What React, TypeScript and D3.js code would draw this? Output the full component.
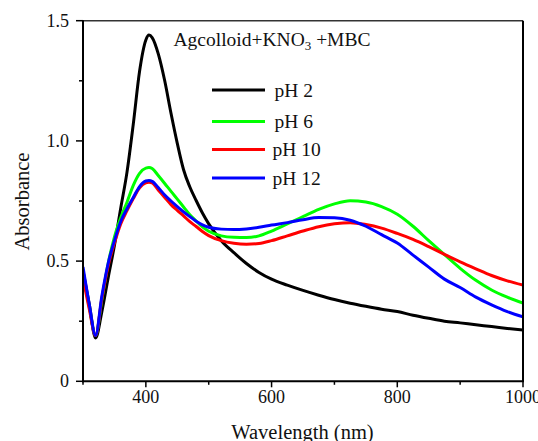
import React from "react";
import * as d3 from "d3";

const wavelengths = [300, 310, 320, 330, 340, 350, 360, 370, 380, 390, 400, 405, 410, 420, 430, 440, 450, 460, 470, 480, 490, 500, 520, 540, 560, 580, 600, 625, 650, 675, 700, 725, 750, 775, 800, 825, 850, 875, 900, 925, 950, 975, 1000];

const pH2 = [0.46, 0.32, 0.18, 0.29, 0.43, 0.565, 0.72, 0.87, 1.07, 1.29, 1.42, 1.44, 1.43, 1.36, 1.25, 1.115, 0.99, 0.88, 0.808, 0.752, 0.7, 0.655, 0.585, 0.535, 0.49, 0.453, 0.425, 0.4, 0.378, 0.358, 0.34, 0.325, 0.312, 0.3, 0.29, 0.275, 0.262, 0.25, 0.243, 0.235, 0.228, 0.22, 0.213];
const pH6 = [0.45, 0.31, 0.19, 0.34, 0.49, 0.6, 0.68, 0.745, 0.815, 0.865, 0.887, 0.889, 0.885, 0.855, 0.823, 0.79, 0.758, 0.725, 0.693, 0.667, 0.642, 0.624, 0.605, 0.599, 0.598, 0.605, 0.625, 0.655, 0.685, 0.715, 0.738, 0.751, 0.746, 0.727, 0.695, 0.645, 0.585, 0.527, 0.47, 0.42, 0.38, 0.35, 0.325];
const pH10 = [0.43, 0.3, 0.19, 0.345, 0.48, 0.575, 0.655, 0.71, 0.76, 0.805, 0.826, 0.828, 0.825, 0.795, 0.765, 0.735, 0.711, 0.688, 0.664, 0.644, 0.623, 0.606, 0.585, 0.574, 0.57, 0.573, 0.585, 0.605, 0.625, 0.643, 0.655, 0.66, 0.652, 0.637, 0.615, 0.59, 0.56, 0.528, 0.497, 0.468, 0.44, 0.418, 0.4];
const pH12 = [0.475, 0.32, 0.19, 0.355, 0.49, 0.585, 0.665, 0.718, 0.765, 0.81, 0.833, 0.835, 0.832, 0.805, 0.775, 0.75, 0.727, 0.705, 0.685, 0.666, 0.651, 0.641, 0.633, 0.631, 0.634, 0.641, 0.65, 0.66, 0.672, 0.681, 0.68, 0.67, 0.645, 0.61, 0.575, 0.525, 0.475, 0.425, 0.39, 0.35, 0.318, 0.29, 0.268];

const seriesNames = ["pH 2", "pH 6", "pH 10", "pH 12"];
const seriesValues = [pH2, pH6, pH10, pH12];
const seriesColors = ["#000000", "#00ff00", "#ff0000", "#0000ff"];

const xMajorTicks = [400, 600, 800, 1000];
const xMinorTicks = [300, 500, 700, 900];
const yMajorTicks = [0, 0.5, 1.0, 1.5];
const yMinorTicks = [0.25, 0.75, 1.25];
const yTickLabels = ["0", "0.5", "1.0", "1.5"];

const FONT = "'Liberation Serif', 'Times New Roman', serif";

export default function App() {
  const left = 83, right = 523, top = 20.7, bottom = 381.3;
  const x = d3.scaleLinear().domain([300, 1000]).range([left, right]);
  const y = d3.scaleLinear().domain([0, 1.5]).range([bottom, top]);
  const line = d3
    .line<number>()
    .x((_, i) => x(wavelengths[i]))
    .y((d) => y(d))
    .curve(d3.curveMonotoneX);

  const legendY = [90, 121.5, 149.5, 178];
  const textColor = "#111";

  return (
    <svg
      width={538}
      height={441}
      style={{ position: "fixed", left: 0, top: 0, background: "#fff", fontFamily: FONT }}
    >
      <rect x={0} y={0} width={538} height={441} fill="#fff" />
      <defs>
        <clipPath id="plotclip">
          <rect x={left} y={top} width={right - left} height={bottom - top} />
        </clipPath>
      </defs>
      <g clipPath="url(#plotclip)">
        {seriesValues.map((vals, i) => (
          <path
            key={seriesNames[i]}
            d={line(vals) || ""}
            fill="none"
            stroke={seriesColors[i]}
            strokeWidth={3}
            strokeLinejoin="round"
          />
        ))}
      </g>
      <line x1={left} x2={right} y1={top} y2={top} stroke="#333" strokeWidth={1.5} />
      <line x1={right} x2={right} y1={top} y2={bottom} stroke="#000" strokeWidth={2} />
      <line x1={left} x2={left} y1={top - 0.5} y2={bottom + 1} stroke="#000" strokeWidth={2} />
      <line x1={left - 1} x2={right + 1} y1={bottom} y2={bottom} stroke="#000" strokeWidth={2} />
      {xMajorTicks.map((t) => (
        <g key={"xm" + t}>
          <line x1={x(t)} x2={x(t)} y1={bottom} y2={bottom + 6} stroke="#000" strokeWidth={1.5} />
          <text x={x(t)} y={402.5} textAnchor="middle" fontSize={18} fill={textColor} style={{ fontFamily: FONT }}>
            {t}
          </text>
        </g>
      ))}
      {xMinorTicks.map((t) => (
        <line key={"xn" + t} x1={x(t)} x2={x(t)} y1={bottom} y2={bottom + 3.5} stroke="#000" strokeWidth={1.5} />
      ))}
      {yMajorTicks.map((t, i) => (
        <g key={"ym" + t}>
          <line x1={left - 7} x2={left} y1={y(t)} y2={y(t)} stroke="#000" strokeWidth={1.5} />
          <text x={69} y={y(t) + 6} textAnchor="end" fontSize={18} fill={textColor} style={{ fontFamily: FONT }}>
            {yTickLabels[i]}
          </text>
        </g>
      ))}
      {yMinorTicks.map((t) => (
        <line key={"yn" + t} x1={left - 4} x2={left} y1={y(t)} y2={y(t)} stroke="#000" strokeWidth={1.5} />
      ))}
      <text x={302.5} y={439} textAnchor="middle" fontSize={20.5} fill={textColor} style={{ fontFamily: FONT }}>
        Wavelength (nm)
      </text>
      <text
        transform={`translate(29, 201.5) rotate(-90)`}
        textAnchor="middle"
        fontSize={20.5}
        fill={textColor}
        style={{ fontFamily: FONT }}
      >
        Absorbance
      </text>
      <text x={173.5} y={46} fontSize={19.5} fill={textColor} style={{ fontFamily: FONT }}>
        Agcolloid+KNO
        <tspan fontSize={13} dy={4}>3</tspan>
        <tspan dy={-4}> +MBC</tspan>
      </text>
      {seriesNames.map((n, i) => (
        <g key={"lg" + n}>
          <line x1={212} x2={265} y1={legendY[i]} y2={legendY[i]} stroke={seriesColors[i]} strokeWidth={3} />
          <text
            x={n.length > 4 ? 272.5 : 274.5}
            y={legendY[i] + 6.5}
            fontSize={19.5}
            fill={textColor}
            style={{ fontFamily: FONT }}
          >
            {n}
          </text>
        </g>
      ))}
    </svg>
  );
}
